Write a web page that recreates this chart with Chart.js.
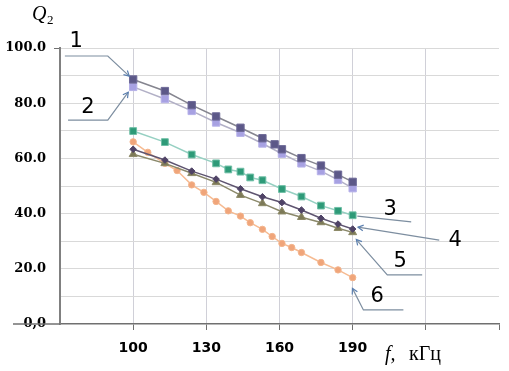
<!DOCTYPE html>
<html>
<head>
<meta charset="utf-8">
<script src="https://cdn.jsdelivr.net/npm/chart.js@4"></script>
<style>
html,body{margin:0;padding:0;background:#fff;}
#wrap{position:relative;width:509px;height:371px;}
</style>
</head>
<body>
<div id="wrap"><canvas id="chart"></canvas></div>
<script>
// frequencies (kHz) and Q2 values
const freq1 = [100,113,124,134,144,153,158,161,169,177,184,190];
const q1    = [88.6,84.4,79.3,75.2,71.1,67.3,65.1,63.3,60.1,57.4,54.1,51.5];
const freq2 = [100,113,124,134,144,153,161,169,177,184,190];
const q2    = [85.9,81.5,77.2,73.0,69.3,65.4,61.7,58.2,55.4,52.2,49.2];
const freq3 = [100,113,124,134,139,144,148,153,161,169,177,184,190];
const q3    = [69.9,65.9,61.4,58.2,56.0,55.2,53.1,52.1,48.9,46.2,42.9,41.0,39.4];
const freq4 = [100,113,124,134,144,153,161,169,177,184,190];
const q4    = [63.3,59.4,55.4,52.5,49.0,46.1,44.0,41.3,38.3,36.2,34.4];
const freq5 = [100,113,124,134,144,153,161,169,177,184,190];
const q5    = [61.5,58.2,54.6,51.3,46.7,43.7,40.7,38.7,36.8,34.7,33.2];
const freq6 = [100,106,113,118,124,129,134,139,144,148,153,157,161,165,169,177,184,190];
const q6    = [66.0,62.2,58.2,55.6,50.4,47.7,44.4,41.0,39.1,36.7,34.3,31.7,29.2,27.7,25.9,22.3,19.6,16.8];

const xLabels = [100,130,160,190];
const yLabels = {0:'0,0',20:'20.0',40:'40.0',60:'60.0',80:'80.0',100:'100.0'};

// numbered callouts, in axis units
const callouts = [
    {text:'1', at:[76.6,102.2], path:[[72,97.1],[89.6,97.1],[98.4,89.8]], arrow:true},
    {text:'2', at:[81.5,78.6], path:[[73.3,73.9],[89.6,73.9],[98.0,84.0]], arrow:true},
    {text:'3', at:[205.4,41.3], path:[[191.9,39.1],[214,37.0]], arrow:false},
    {text:'4', at:[232,30.4], path:[[225.5,30.4],[192.2,35.1]], arrow:true},
    {text:'5', at:[209.5,22.5], path:[[218.5,17.8],[204.2,17.8],[191.5,30.6]], arrow:true},
    {text:'6', at:[200.1,9.8], path:[[210.8,5.1],[194.4,5.1],[189.9,12.9]], arrow:true}
];

const pts = (xs, ys) => xs.map((x, i) => ({x: x, y: ys[i]}));

const extras = {
    id: 'extras',
    afterDraw(chart) {
        const ctx = chart.ctx;
        const xs = chart.scales.x, ys = chart.scales.y;
        const a = chart.chartArea;
        ctx.save();
        // x axis line extended to the left past the y axis
        ctx.strokeStyle = '#707070';
        ctx.lineWidth = 1.5;
        ctx.beginPath();
        ctx.moveTo(13, a.bottom);
        ctx.lineTo(a.left, a.bottom);
        ctx.stroke();

        // callouts
        callouts.forEach(c => {
            const p = c.path.map(v => [xs.getPixelForValue(v[0]), ys.getPixelForValue(v[1])]);
            ctx.strokeStyle = '#7d8ea0';
            ctx.lineWidth = 1.2;
            ctx.beginPath();
            p.forEach((q, i) => i ? ctx.lineTo(q[0], q[1]) : ctx.moveTo(q[0], q[1]));
            ctx.stroke();
            if (c.arrow) {
                const t = p[p.length - 1], f = p[p.length - 2];
                const ang = Math.atan2(t[1] - f[1], t[0] - f[0]);
                ctx.strokeStyle = '#5a7fb0';
                ctx.beginPath();
                ctx.moveTo(t[0] - 6 * Math.cos(ang - 0.5), t[1] - 6 * Math.sin(ang - 0.5));
                ctx.lineTo(t[0], t[1]);
                ctx.lineTo(t[0] - 6 * Math.cos(ang + 0.5), t[1] - 6 * Math.sin(ang + 0.5));
                ctx.stroke();
            }
            ctx.fillStyle = '#000';
            ctx.font = '21px "DejaVu Sans"';
            ctx.textAlign = 'center';
            ctx.textBaseline = 'middle';
            ctx.fillText(c.text, xs.getPixelForValue(c.at[0]), ys.getPixelForValue(c.at[1]));
        });

        // axis titles
        ctx.fillStyle = '#000';
        ctx.textAlign = 'left';
        ctx.textBaseline = 'alphabetic';
        ctx.font = 'italic 20px "Liberation Serif"';
        ctx.fillText('Q', 32, 20);
        ctx.font = '13px "Liberation Serif"';
        ctx.fillText('2', 47, 24);
        ctx.font = 'italic 20px "Liberation Serif"';
        ctx.fillText('f,', 385, 360);
        ctx.font = '20px "Liberation Serif"';
        ctx.fillText('кГц', 409, 360);
        ctx.restore();
    }
};

const ctx = document.getElementById('chart').getContext('2d');
new Chart(ctx, {
    type: 'scatter',
    data: {
        datasets: [
            {
                label: '1',
                data: pts(freq1, q1),
                showLine: true,
                borderColor: '#85858f',
                borderWidth: 1.5,
                pointStyle: 'rect',
                pointRadius: 5.2,
                pointBackgroundColor: '#5c5888',
                pointBorderColor: '#6e6a98',
                pointBorderWidth: 1
            },
            {
                label: '2',
                data: pts(freq2, q2),
                showLine: true,
                borderColor: '#b2b0c6',
                borderWidth: 1.5,
                pointStyle: 'rect',
                pointRadius: 5.2,
                pointBackgroundColor: '#a7a1e2',
                pointBorderColor: '#b7b2ea',
                pointBorderWidth: 1
            },
            {
                label: '3',
                data: pts(freq3, q3),
                showLine: true,
                borderColor: '#96d0c2',
                borderWidth: 1.5,
                pointStyle: 'rect',
                pointRadius: 4.8,
                pointBackgroundColor: '#2e9a78',
                pointBorderColor: '#6fbfa6',
                pointBorderWidth: 1
            },
            {
                label: '4',
                data: pts(freq4, q4),
                showLine: true,
                borderColor: '#5e5470',
                borderWidth: 1.5,
                pointStyle: 'rectRot',
                pointRadius: 3.3,
                pointBackgroundColor: '#4f4366',
                pointBorderColor: '#4f4366',
                pointBorderWidth: 1
            },
            {
                label: '5',
                data: pts(freq5, q5),
                showLine: true,
                borderColor: '#8a886a',
                borderWidth: 1.5,
                pointStyle: 'triangle',
                pointRadius: 4.6,
                pointBackgroundColor: '#7d7a58',
                pointBorderColor: '#8d8a68',
                pointBorderWidth: 1
            },
            {
                label: '6',
                data: pts(freq6, q6),
                showLine: true,
                borderColor: '#f6bb92',
                borderWidth: 1.5,
                pointStyle: 'circle',
                pointRadius: 3.2,
                pointBackgroundColor: '#f0a57a',
                pointBorderColor: '#f3b48c',
                pointBorderWidth: 1
            }
        ]
    },
    options: {
        responsive: true,
        maintainAspectRatio: false,
        animation: false,
        layout: { padding: { left: 0, right: 9, top: 48, bottom: 0 } },
        plugins: {
            legend: { display: false },
            tooltip: { enabled: false }
        },
        scales: {
            x: {
                type: 'linear',
                min: 70,
                max: 250,
                afterFit: s => { s.height = 47; },
                afterBuildTicks: s => { s.ticks = [70,100,130,160,190,220,250].map(v => ({value: v})); },
                grid: {
                    color: c => (c.tick && (c.tick.value === 70 || c.tick.value === 250)) ? 'rgba(0,0,0,0)' : '#d0d0d8',
                    tickColor: c => (c.tick && c.tick.value === 70) ? 'rgba(0,0,0,0)' : '#707070',
                    tickLength: 6,
                    lineWidth: 1
                },
                border: { color: '#707070', width: 1.5 },
                ticks: {
                    padding: 10,
                    maxRotation: 0,
                    color: '#000',
                    font: { family: 'DejaVu Sans', weight: 'bold', size: 14 },
                    callback: v => xLabels.includes(v) ? String(v) : ''
                }
            },
            y: {
                min: 0,
                max: 100,
                afterFit: s => { s.width = 60; },
                ticks: {
                    stepSize: 5,
                    padding: 8,
                    color: '#000',
                    font: { family: 'DejaVu Serif', weight: 'bold', size: 13 },
                    callback: v => (v in yLabels) ? yLabels[v] : ''
                },
                grid: {
                    color: c => (c.tick && c.tick.value === 0) ? 'rgba(0,0,0,0)' : '#d9d9d9',
                    tickColor: c => (c.tick && c.tick.value === 100) ? '#707070' : 'rgba(0,0,0,0)',
                    tickLength: 6,
                    lineWidth: 1
                },
                border: { color: '#808080', width: 2 }
            }
        }
    },
    plugins: [extras]
});
</script>
</body>
</html>
